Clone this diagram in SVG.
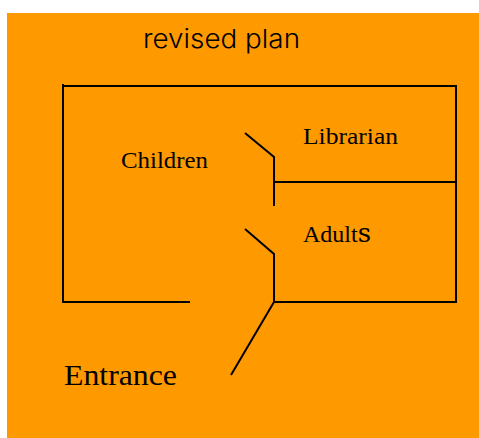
<svg xmlns="http://www.w3.org/2000/svg" width="479" height="438" viewBox="0 0 479 438">
<style>
.w{fill:none;stroke:#000;stroke-width:2}
.s{font-family:"Liberation Serif","DejaVu Serif",serif;fill:#000}
</style>
<rect width="479" height="438" fill="#fff"/>
<rect x="7" y="13" width="472" height="425" fill="#ff9900"/>
<text x="143" y="48" font-family="Inter,sans-serif" font-weight="300" font-size="26" fill="#000" textLength="157" lengthAdjust="spacingAndGlyphs">revised plan</text>
<g id="walls">
<path class="w" d="M63 84V302H190M63 86H456V302H274M274 182H456M245 133L274 157V206M245 229L274 254V302L231 375"/>
</g>
<g id="children"><text class="s" x="121" y="168" font-size="24" textLength="87" lengthAdjust="spacingAndGlyphs">Children</text></g>
<g id="librarian"><text class="s" x="303" y="144" font-size="24" textLength="95" lengthAdjust="spacingAndGlyphs">Librarian</text></g>
<g id="adults"><text class="s" x="303" y="242" font-size="24" textLength="68" lengthAdjust="spacingAndGlyphs">Adult<tspan font-family="DejaVu Serif,serif" font-size="26">s</tspan></text></g>
<g id="entrance"><text class="s" x="64" y="385" font-size="30" textLength="113" lengthAdjust="spacingAndGlyphs">Entrance</text></g>
</svg>
